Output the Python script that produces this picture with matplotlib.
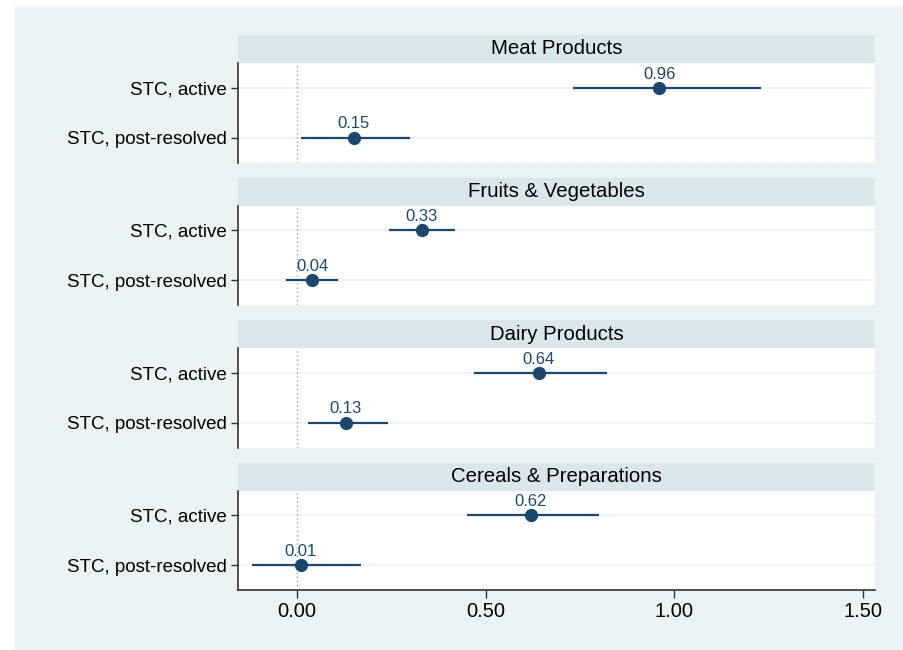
import matplotlib.pyplot as plt
from matplotlib.patches import Rectangle

plt.rcParams['font.family'] = ['Liberation Sans', 'DejaVu Sans']

# coefficient estimates and 95% intervals by product group
groups = ['Meat Products', 'Fruits & Vegetables', 'Dairy Products', 'Cereals & Preparations']
rows = ['STC, active', 'STC, post-resolved']
coef = [[0.96, 0.15], [0.33, 0.04], [0.64, 0.13], [0.62, 0.01]]
ci_lo = [[0.73, 0.01], [0.245, -0.03], [0.47, 0.03], [0.45, -0.12]]
ci_hi = [[1.23, 0.30], [0.42, 0.11], [0.82, 0.24], [0.80, 0.17]]
xticks = [0.0, 0.5, 1.0, 1.5]

navy = '#1A476F'
bg = '#EAF2F3'
strip = '#D9E6EB'

W, H = 904, 650
fig = plt.figure(figsize=(W / 100, H / 100), dpi=100)
fig.patch.set_facecolor('white')
fig.patches.append(Rectangle((15 / W, 0), 1 - 15 / W, 1 - 6 / H,
                             transform=fig.transFigure, color=bg, zorder=-10))

left, right = 238, 875
strip_h, plot_h, step = 28, 99.5, 142.5

for i, g in enumerate(groups):
    top = 35 + i * step
    # header strip
    sax = fig.add_axes([left / W, 1 - (top + strip_h) / H, (right - left) / W, strip_h / H])
    sax.set_facecolor(strip)
    sax.set_xticks([])
    sax.set_yticks([])
    for s in sax.spines.values():
        s.set_visible(False)
    sax.text(0.5, 0.5, g, ha='center', va='center', fontsize=14.7, color='black')

    ax = fig.add_axes([left / W, 1 - (top + strip_h + plot_h) / H, (right - left) / W, plot_h / H])
    ax.set_facecolor('white')
    ypos = [1, 2]
    for y in ypos:
        ax.axhline(y, color=bg, lw=1.2, zorder=1)
    ax.axvline(0, color='#A0A0A0', lw=1, ls=(0, (1, 2)), zorder=1)
    ax.hlines(ypos, ci_lo[i], ci_hi[i], color=navy, lw=1.6, zorder=2)
    ax.plot(coef[i], ypos, 'o', color=navy, ms=8.5, zorder=3)
    for c, y in zip(coef[i], ypos):
        ax.annotate(f'{c:.2f}', (c, y), xytext=(0, 4.5), textcoords='offset points',
                    ha='center', va='bottom', fontsize=12, color=navy)
    ax.set_xlim(-0.156, 1.531)
    ax.set_ylim(2.5, 0.5)
    ax.set_yticks(ypos)
    ax.set_yticklabels(rows, fontsize=13.5)
    ax.tick_params(axis='y', length=5, width=1, color='#333333', pad=3)
    for s in ['top', 'right']:
        ax.spines[s].set_visible(False)
    ax.spines['left'].set_color('#333333')
    ax.spines['left'].set_linewidth(1.2)
    if i < len(groups) - 1:
        ax.spines['bottom'].set_visible(False)
        ax.set_xticks([])
    else:
        ax.spines['bottom'].set_color('#333333')
        ax.spines['bottom'].set_linewidth(1.2)
        ax.set_xticks(xticks)
        ax.set_xticklabels([f'{t:.2f}' for t in xticks], fontsize=14.5)
        ax.tick_params(axis='x', length=6, width=1, color='#333333', pad=2.5)

fig.savefig('out.png', dpi=100, facecolor=fig.get_facecolor())
